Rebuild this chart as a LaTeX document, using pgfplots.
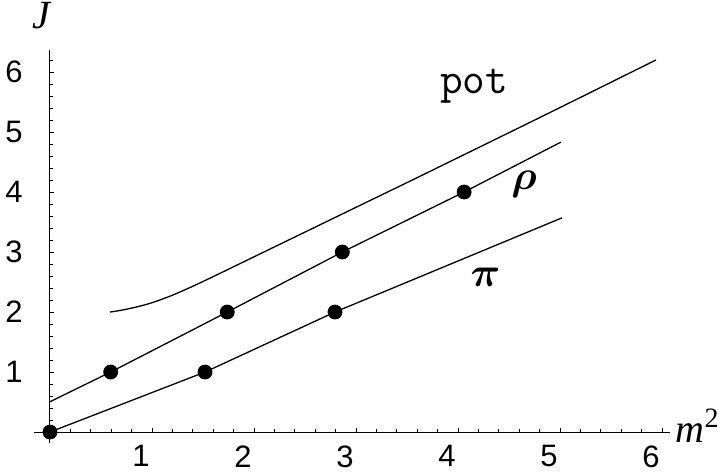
\documentclass[border=0pt]{standalone}
\usepackage{amsmath}
\usepackage{pgfplots}
\pgfplotsset{compat=1.18}
\usepackage{fontspec}
\setmainfont{Liberation Sans}
\newfontfamily\timesf{Liberation Serif}

\begin{document}
\begin{tikzpicture}
\begin{axis}[
  x=51pt, y=30pt,
  axis lines=middle,
  xmin=-0.16, xmax=6.08, ymin=-0.18, ymax=6.37,
  xtick={1,2,3,4,5,6}, ytick={1,2,3,4,5,6},
  minor xtick={0.2,0.4,0.6,0.8,1.2,1.4,1.6,1.8,2.2,2.4,2.6,2.8,3.2,3.4,3.6,3.8,4.2,4.4,4.6,4.8,5.2,5.4,5.6,5.8},
  minor ytick={0.2,0.4,0.6,0.8,1.2,1.4,1.6,1.8,2.2,2.4,2.6,2.8,3.2,3.4,3.6,3.8,4.2,4.4,4.6,4.8,5.2,5.4,5.6,5.8,6.2},
  tick align=inside,
  major tick length=2pt, minor tick length=1.3pt,
  tick style={black, line width=0.4pt},
  axis line style={black, line width=0.5pt, -},
  /pgf/number format/assume math mode=true,
  tick label style={font=\fontsize{15.5}{18}\selectfont},
  xticklabel style={anchor=north, inner sep=0pt, yshift=-6.5pt, xshift=-5.5pt},
  yticklabel style={anchor=east, inner sep=0pt, xshift=-13.5pt},
  clip=false]
% pi trajectory
\addplot[black, line width=0.65pt] coordinates {(0,0) (1.52,1.0) (2.794,2.0) (5.02,3.57)};
% rho trajectory
\addplot[black, line width=0.65pt] coordinates {(0,0.505) (0.595,1.0) (1.738,2.0) (2.866,3.0) (4.06,4.0) (5.007,4.83)};
% potential model curve
\addplot[black, line width=0.65pt, smooth] coordinates {
  (0.588,2.000) (0.70,2.030) (0.85,2.085) (1.0,2.155) (1.2,2.28) (1.4,2.43)
  (1.6,2.59) (1.8,2.755) (2.0,2.92) (2.4,3.25) (3.0,3.745) (3.6,4.24)
  (4.8,5.24) (5.94,6.2)};
% states
\addplot[only marks, mark=*, mark size=3.5pt, black] coordinates {
  (0,0) (1.52,1.0) (2.794,2.0)
  (0.595,1.0) (1.738,2.0) (2.866,3.0) (4.06,4.0)};
\node[font=\ttfamily\fontsize{22}{24}\selectfont, anchor=base] at (axis cs:4.157,5.645) {pot};
\node[font=\fontsize{20}{22}\selectfont] at (axis cs:4.647,4.133) {$\boldsymbol{\rho}$};
\node[font=\fontsize{20}{22}\selectfont] at (axis cs:4.27,2.575) {$\boldsymbol{\pi}$};
\node[font=\timesf\itshape\fontsize{20}{22}\selectfont] at (axis cs:-0.088,6.94) {J};
\node[font=\timesf\itshape\fontsize{20}{22}\selectfont, anchor=base west, inner sep=0pt] at (axis cs:6.13,-0.18) {m\textsuperscript{\upshape 2}};
\coordinate (bl) at (axis cs:-0.49,-0.683);
\coordinate (tr) at (axis cs:6.578,7.2);
\end{axis}
\pgfresetboundingbox
\useasboundingbox (bl) rectangle (tr);
\end{tikzpicture}
\end{document}
